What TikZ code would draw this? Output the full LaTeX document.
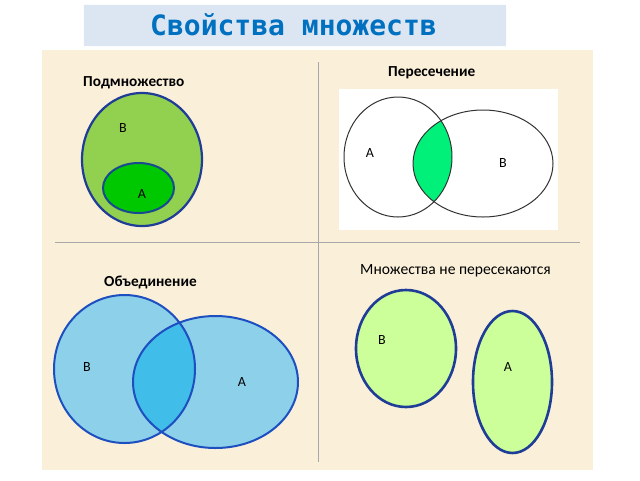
\documentclass[tikz,border=0pt]{standalone}
\usepackage{fontspec}
\setmainfont{Carlito}
\newfontfamily\titlefont{DejaVu Sans Mono}
\definecolor{beige}{HTML}{FAF0DA}
\definecolor{titlebg}{HTML}{DCE6F2}
\definecolor{titleblue}{HTML}{0070C0}
\definecolor{darkblue}{HTML}{1F3C96}
\definecolor{setblue}{HTML}{1D4FC0}
\definecolor{lgreen}{HTML}{92D050}
\definecolor{dgreen}{HTML}{00C800}
\definecolor{lensgreen}{HTML}{00F07A}
\definecolor{lblue}{HTML}{8DD0EA}
\definecolor{mblue}{HTML}{40BDE8}
\definecolor{pgreen}{HTML}{CCFF99}
\definecolor{divgray}{HTML}{A8A8A8}
\tikzset{
  heading/.style={font=\fontsize{15.3}{15}\selectfont\bfseries, inner sep=0pt},
  letter/.style={font=\fontsize{14}{14}\selectfont, inner sep=0pt},
  setline/.style={line width=2.2pt, draw=darkblue},
  divider/.style={draw=divgray, line width=1pt}
}
\begin{document}
\begin{tikzpicture}[x=1pt,y=-1pt]
\useasboundingbox (0,0) rectangle (640,480);
\fill[white] (0,0) rectangle (640,480);
% background panel
\fill[beige] (42,50) rectangle (593,470);
% title
\draw[fill=titlebg, draw=white!90!titlebg, line width=1pt] (83,4) rectangle (506,46);
\node[font=\titlefont\bfseries\fontsize{28}{28}\selectfont, text=titleblue, inner sep=0pt] (title) at (293.5,25) {Свойства множеств};
% dividers
\coordinate (hl) at (55,242);
\coordinate (hr) at (580,242);
\coordinate (vt) at (318,62);
\coordinate (vb) at (318,462);
\draw[divider] (hl) -- (hr);
\draw[divider] (vt) -- (vb);

% ---- Subset ----
\node[heading, anchor=west] (h1) at (83,83) {Подмножество};
\draw[setline, fill=lgreen] (142,159.5) ellipse [x radius=60, y radius=66.5];
\draw[line width=2pt, draw=darkblue!80!teal, fill=dgreen] (138.5,188) ellipse [x radius=35.5, y radius=25];
\node[letter] (sB) at (123,128) {B};
\node[letter] (sA) at (142,194) {A};

% ---- Intersection ----
\node[heading, anchor=west] (h2) at (388,73) {Пересечение};
\fill[white] (339,89) rectangle (558,230);
\begin{scope}
  \clip (398,157) ellipse [x radius=54, y radius=60];
  \fill[lensgreen] (483,163.5) ellipse [x radius=70, y radius=53.5];
\end{scope}
\draw[line width=1pt, black!80] (398,157) ellipse [x radius=54, y radius=60];
\draw[line width=1pt, black!80] (483,163.5) ellipse [x radius=70, y radius=53.5];
\node[letter] (iA) at (370,153) {A};
\node[letter] (iB) at (503,163) {B};

% ---- Union ----
\node[heading, anchor=west] (h3) at (104,282) {Объединение};
\fill[lblue] (124.5,369) ellipse [x radius=70.5, y radius=74];
\fill[lblue] (215.5,382) ellipse [x radius=82.5, y radius=66];
\begin{scope}
  \clip (124.5,369) ellipse [x radius=70.5, y radius=74];
  \fill[mblue] (215.5,382) ellipse [x radius=82.5, y radius=66];
\end{scope}
\draw[line width=2pt, draw=setblue] (124.5,369) ellipse [x radius=70.5, y radius=74];
\draw[line width=2pt, draw=setblue] (215.5,382) ellipse [x radius=82.5, y radius=66];
\node[letter] (uB) at (87,367) {B};
\node[letter] (uA) at (242,382) {A};

% ---- Disjoint ----
\node[heading, font=\fontsize{15.6}{15}\selectfont, anchor=west] (h4) at (360,271) {Множества не пересекаются};
\draw[setline, line width=2.6pt, fill=pgreen] (406,348.5) ellipse [x radius=50, y radius=58.5];
\draw[setline, line width=2.6pt, fill=pgreen] (512.5,382) ellipse [x radius=39.5, y radius=71];
\node[letter] (dB) at (382,340) {B};
\node[letter] (dA) at (508,367) {A};
\end{tikzpicture}
\end{document}
